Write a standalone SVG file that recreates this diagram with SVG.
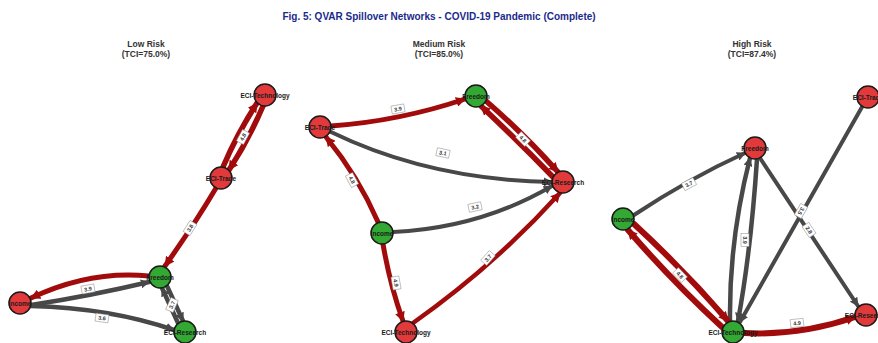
<svg xmlns="http://www.w3.org/2000/svg" width="878" height="343" viewBox="0 0 878 343">
  <defs>
    <style>
      .title { font-family: "Liberation Sans", Arial, sans-serif; font-size: 10px; font-weight: bold; fill: #1a2a8c; text-anchor: middle; }
      .ptitle { font-family: "Liberation Sans", Arial, sans-serif; font-size: 8.5px; font-weight: bold; fill: #333; text-anchor: middle; }
      .red { fill: none; stroke: #a10b0b; stroke-linecap: round; }
      .grey { fill: none; stroke: #484848; stroke-linecap: round; }
      .nred { fill: #e23a3a; stroke: #1a1a1a; stroke-width: 1.5; }
      .ngreen { fill: #33a833; stroke: #1a1a1a; stroke-width: 1.5; }
      .nlab { font-family: "Liberation Sans", Arial, sans-serif; font-size: 6.5px; font-weight: bold; fill: #1a1a1a; text-anchor: middle; dominant-baseline: central; }
      .wbox { fill: #ffffff; stroke: #888; stroke-width: 0.5; }
      .wtxt { font-family: "Liberation Sans", Arial, sans-serif; font-size: 5.5px; font-weight: bold; fill: #333; text-anchor: middle; dominant-baseline: central; }
    </style>
    <marker id="ar" viewBox="0 0 10 10" refX="9" refY="5" markerWidth="10" markerHeight="10" markerUnits="userSpaceOnUse" orient="auto">
      <path d="M0,0 L10,5 L0,10 z" fill="#a10b0b"/>
    </marker>
    <marker id="ag" viewBox="0 0 10 10" refX="9" refY="5" markerWidth="9" markerHeight="9" markerUnits="userSpaceOnUse" orient="auto">
      <path d="M0,0 L10,5 L0,10 z" fill="#484848"/>
    </marker>
  </defs>

  <rect width="878" height="343" fill="#ffffff"/>

  <text class="title" x="439" y="20">Fig. 5: QVAR Spillover Networks - COVID-19 Pandemic (Complete)</text>

  <text class="ptitle" x="146" y="47">Low Risk</text>
  <text class="ptitle" x="146" y="57">(TCI=75.0%)</text>
  <text class="ptitle" x="439" y="47">Medium Risk</text>
  <text class="ptitle" x="439" y="57">(TCI=85.0%)</text>
  <text class="ptitle" x="752" y="47">High Risk</text>
  <text class="ptitle" x="752" y="57">(TCI=87.4%)</text>

  <!-- connectors -->
  <g id="edges">
    <!-- low risk -->
    <path class="red" stroke-width="5.5" d="M263,106 Q249,139 229,170" marker-end="url(#ar)"/>
    <path class="red" stroke-width="5.5" d="M223,167 Q237,134 257,103" marker-end="url(#ar)"/>
    <path class="red" stroke-width="5" d="M216,188 Q196,222 165,266" marker-end="url(#ar)"/>
    <path class="red" stroke-width="5" d="M149,276 Q90,270 31,298" marker-end="url(#ar)"/>
    <path class="grey" stroke-width="4.5" d="M31,305 Q90,296 149,282" marker-end="url(#ag)"/>
    <path class="grey" stroke-width="4.5" d="M31,306 Q110,308 174,330" marker-end="url(#ag)"/>
    <path class="grey" stroke-width="4.5" d="M167,286 L183,321" marker-end="url(#ag)"/>
    <path class="grey" stroke-width="4.5" d="M178,323 L162,288" marker-end="url(#ag)"/>

    <!-- medium risk -->
    <path class="red" stroke-width="5" d="M331,126 Q400,121 465,99" marker-end="url(#ar)"/>
    <path class="red" stroke-width="5.5" d="M486,101 Q524,134 558,172" marker-end="url(#ar)"/>
    <path class="red" stroke-width="5.5" d="M553,177 Q520,143 481,106" marker-end="url(#ar)"/>
    <path class="grey" stroke-width="4" d="M331,132 Q430,180 552,182" marker-end="url(#ag)"/>
    <path class="red" stroke-width="5" d="M378,222 Q358,176 326,137" marker-end="url(#ar)"/>
    <path class="grey" stroke-width="4" d="M393,232 Q480,228 552,186" marker-end="url(#ag)"/>
    <path class="red" stroke-width="5" d="M383,244 Q390,285 403,321" marker-end="url(#ar)"/>
    <path class="red" stroke-width="4.5" d="M413,323 Q495,265 560,193" marker-end="url(#ar)"/>

    <!-- high risk -->
    <path class="grey" stroke-width="4" d="M634,215 Q690,178 745,153" marker-end="url(#ag)"/>
    <path class="grey" stroke-width="4.5" d="M730,321 Q729,240 750,158" marker-end="url(#ag)"/>
    <path class="grey" stroke-width="4.5" d="M757,159 Q751,250 738,321" marker-end="url(#ag)"/>
    <path class="grey" stroke-width="4" d="M862,107 L740,322" marker-end="url(#ag)"/>
    <path class="grey" stroke-width="4" d="M760,158 L858,306" marker-end="url(#ag)"/>
    <path class="red" stroke-width="6" d="M634,224 Q684,270 728,321" marker-end="url(#ar)"/>
    <path class="red" stroke-width="6" d="M722,327 Q672,281 628,230" marker-end="url(#ar)"/>
    <path class="red" stroke-width="6" d="M744,333 Q800,336 855,317" marker-end="url(#ar)"/>
  </g>

  <!-- weight labels -->
  <g id="weights">
    <g transform="translate(243,137) rotate(-62)"><rect class="wbox" x="-6.5" y="-4" width="13" height="8"/><text class="wtxt" x="0" y="0">4.8</text></g>
    <g transform="translate(190,228) rotate(-58)"><rect class="wbox" x="-6.5" y="-4" width="13" height="8"/><text class="wtxt" x="0" y="0">3.8</text></g>
    <g transform="translate(88,289) rotate(-10)"><rect class="wbox" x="-6.5" y="-4" width="13" height="8"/><text class="wtxt" x="0" y="0">3.9</text></g>
    <g transform="translate(102,318) rotate(8)"><rect class="wbox" x="-6.5" y="-4" width="13" height="8"/><text class="wtxt" x="0" y="0">3.6</text></g>
    <g transform="translate(172,305) rotate(-66)"><rect class="wbox" x="-6.5" y="-4" width="13" height="8"/><text class="wtxt" x="0" y="0">3.7</text></g>

    <g transform="translate(398,109) rotate(-10)"><rect class="wbox" x="-6.5" y="-4" width="13" height="8"/><text class="wtxt" x="0" y="0">3.9</text></g>
    <g transform="translate(523,139) rotate(45)"><rect class="wbox" x="-6.5" y="-4" width="13" height="8"/><text class="wtxt" x="0" y="0">4.8</text></g>
    <g transform="translate(443,153) rotate(12)"><rect class="wbox" x="-6.5" y="-4" width="13" height="8"/><text class="wtxt" x="0" y="0">3.1</text></g>
    <g transform="translate(352,180) rotate(62)"><rect class="wbox" x="-6.5" y="-4" width="13" height="8"/><text class="wtxt" x="0" y="0">4.8</text></g>
    <g transform="translate(475,207) rotate(-12)"><rect class="wbox" x="-6.5" y="-4" width="13" height="8"/><text class="wtxt" x="0" y="0">3.2</text></g>
    <g transform="translate(396,283) rotate(80)"><rect class="wbox" x="-6.5" y="-4" width="13" height="8"/><text class="wtxt" x="0" y="0">4.9</text></g>
    <g transform="translate(488,258) rotate(-48)"><rect class="wbox" x="-6.5" y="-4" width="13" height="8"/><text class="wtxt" x="0" y="0">3.7</text></g>

    <g transform="translate(689,184) rotate(-28)"><rect class="wbox" x="-6.5" y="-4" width="13" height="8"/><text class="wtxt" x="0" y="0">3.7</text></g>
    <g transform="translate(745,240) rotate(90)"><rect class="wbox" x="-6.5" y="-4" width="13" height="8"/><text class="wtxt" x="0" y="0">3.9</text></g>
    <g transform="translate(801,211) rotate(120)"><rect class="wbox" x="-6.5" y="-4" width="13" height="8"/><text class="wtxt" x="0" y="0">3.5</text></g>
    <g transform="translate(809,230) rotate(56)"><rect class="wbox" x="-6.5" y="-4" width="13" height="8"/><text class="wtxt" x="0" y="0">2.8</text></g>
    <g transform="translate(680,275) rotate(46)"><rect class="wbox" x="-6.5" y="-4" width="13" height="8"/><text class="wtxt" x="0" y="0">4.8</text></g>
    <g transform="translate(797,323) rotate(-6)"><rect class="wbox" x="-6.5" y="-4" width="13" height="8"/><text class="wtxt" x="0" y="0">4.9</text></g>
  </g>

  <!-- low risk nodes -->
  <g id="low-eci-technology"><circle class="nred" cx="265" cy="95" r="11"/><text class="nlab" x="265" y="95">ECI-Technology</text></g>
  <g id="low-eci-trade"><circle class="nred" cx="221" cy="178" r="11"/><text class="nlab" x="221" y="178">ECI-Trade</text></g>
  <g id="low-freedom"><circle class="ngreen" cx="160" cy="277" r="11"/><text class="nlab" x="160" y="277">Freedom</text></g>
  <g id="low-income"><circle class="nred" cx="20" cy="303" r="11"/><text class="nlab" x="20" y="303">Income</text></g>
  <g id="low-eci-research"><circle class="ngreen" cx="185" cy="332" r="11"/><text class="nlab" x="185" y="332">ECI-Research</text></g>

  <!-- medium risk nodes -->
  <g id="med-eci-trade"><circle class="nred" cx="320" cy="127" r="11"/><text class="nlab" x="320" y="127">ECI-Trade</text></g>
  <g id="med-freedom"><circle class="ngreen" cx="476" cy="96" r="11"/><text class="nlab" x="476" y="96">Freedom</text></g>
  <g id="med-eci-research"><circle class="nred" cx="563" cy="182" r="11"/><text class="nlab" x="563" y="182">ECI-Research</text></g>
  <g id="med-income"><circle class="ngreen" cx="382" cy="233" r="11"/><text class="nlab" x="382" y="233">Income</text></g>
  <g id="med-eci-technology"><circle class="nred" cx="406" cy="332" r="11"/><text class="nlab" x="406" y="332">ECI-Technology</text></g>

  <!-- high risk nodes -->
  <g id="high-eci-trade"><circle class="nred" cx="868" cy="97" r="11"/><text class="nlab" x="868" y="97">ECI-Trade</text></g>
  <g id="high-freedom"><circle class="nred" cx="755" cy="148" r="11"/><text class="nlab" x="755" y="148">Freedom</text></g>
  <g id="high-income"><circle class="ngreen" cx="623" cy="219" r="11"/><text class="nlab" x="623" y="219">Income</text></g>
  <g id="high-eci-technology"><circle class="ngreen" cx="733" cy="332" r="11"/><text class="nlab" x="733" y="332">ECI-Technology</text></g>
  <g id="high-eci-research"><circle class="nred" cx="866" cy="315" r="11"/><text class="nlab" x="866" y="315">ECI-Research</text></g>
</svg>
